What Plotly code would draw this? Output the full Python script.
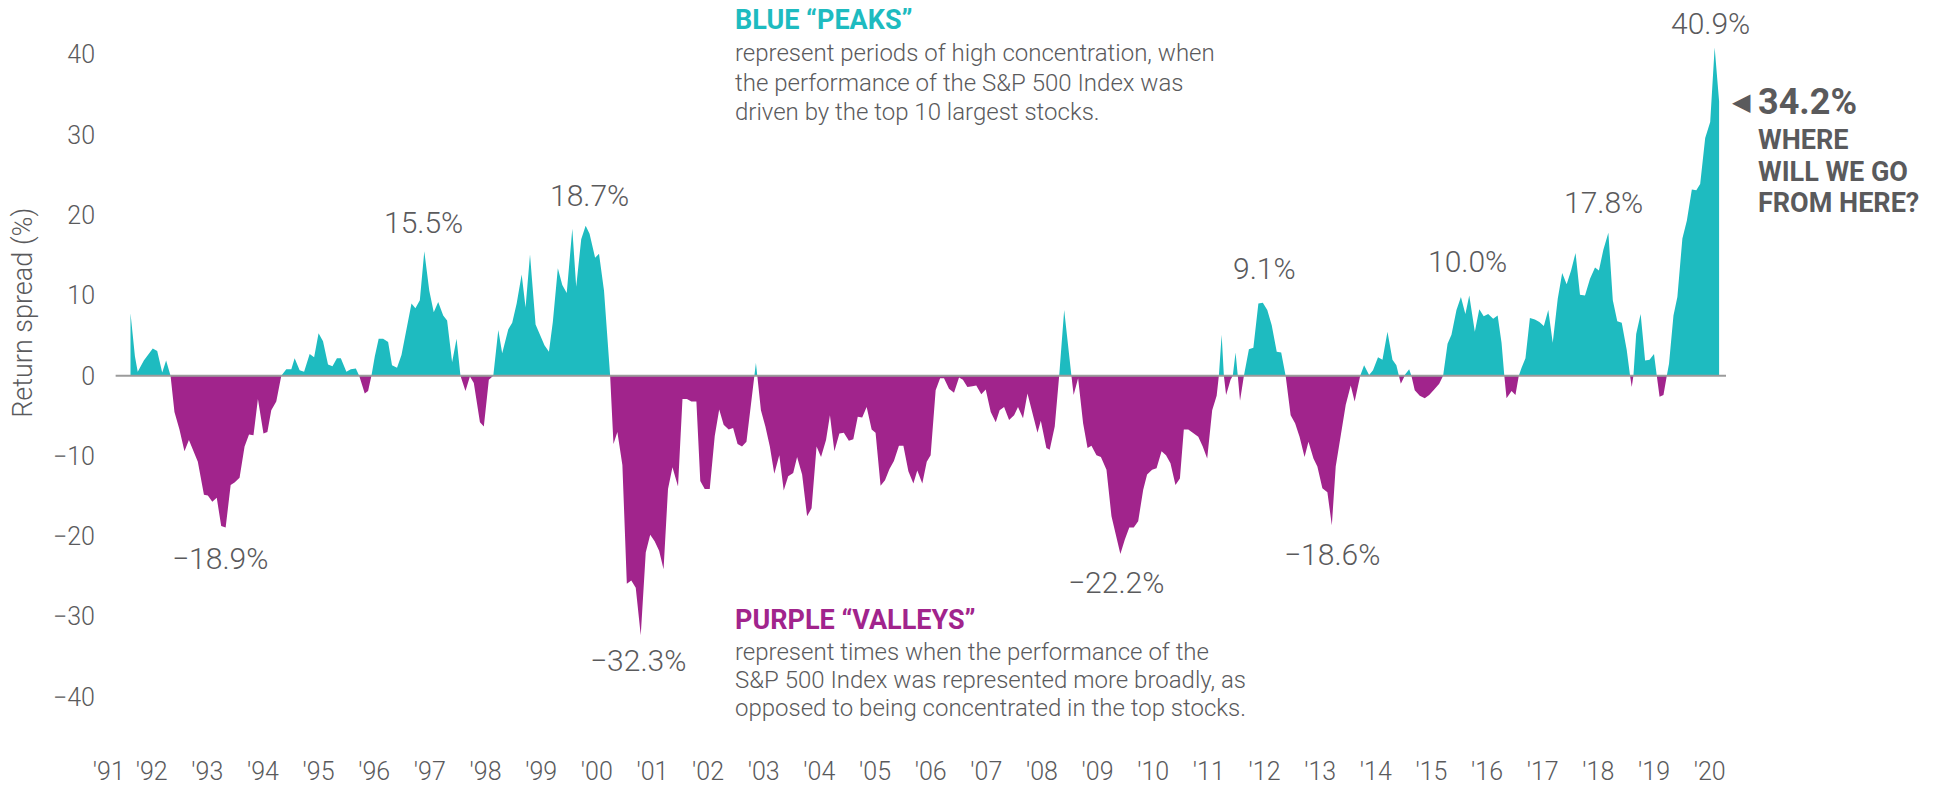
import plotly.graph_objects as go

# ---- data (decimal year, return spread %) ----
dates = [
    1991.62, 1991.70, 1991.75, 1991.86, 1992.02, 1992.10, 1992.19, 1992.26, 1992.34, 1992.41,
    1992.50, 1992.59, 1992.67, 1992.83, 1992.94, 1993.01, 1993.09, 1993.17, 1993.25, 1993.33,
    1993.42, 1993.49, 1993.58, 1993.67, 1993.75, 1993.83, 1993.91, 1994.01, 1994.08, 1994.15,
    1994.24, 1994.33, 1994.42, 1994.51, 1994.57, 1994.66, 1994.74, 1994.84, 1994.92, 1995.00,
    1995.08, 1995.17, 1995.25, 1995.33, 1995.40, 1995.50, 1995.58, 1995.67, 1995.73, 1995.83,
    1995.89, 1995.95, 1996.01, 1996.08, 1996.16, 1996.25,
    1996.32, 1996.41, 1996.49, 1996.58, 1996.67, 1996.74, 1996.82, 1996.90, 1996.99, 1997.07,
    1997.15, 1997.24, 1997.31, 1997.40, 1997.48, 1997.55, 1997.64, 1997.72, 1997.79, 1997.90,
    1997.97, 1998.06, 1998.14, 1998.23, 1998.30, 1998.41, 1998.48, 1998.56, 1998.65, 1998.72,
    1998.80, 1998.90, 1998.97, 1999.06, 1999.14, 1999.21, 1999.30, 1999.38, 1999.46, 1999.56,
    1999.63, 1999.72, 1999.80, 1999.87, 1999.97, 2000.04, 2000.13, 2000.20, 2000.24, 2000.30,
    2000.37, 2000.46, 2000.54, 2000.62, 2000.70, 2000.79, 2000.88, 2000.96, 2001.04, 2001.12,
    2001.20, 2001.28, 2001.36, 2001.46, 2001.54, 2001.62, 2001.70, 2001.79, 2001.86, 2001.94,
    2002.03, 2002.12, 2002.20, 2002.28, 2002.37, 2002.45, 2002.53, 2002.61, 2002.69, 2002.77,
    2002.86, 2002.95, 2003.03, 2003.11, 2003.19, 2003.28, 2003.36, 2003.44, 2003.53, 2003.60,
    2003.69, 2003.78, 2003.86, 2003.95, 2004.03, 2004.12, 2004.19, 2004.27, 2004.36, 2004.44,
    2004.53, 2004.61, 2004.69, 2004.77, 2004.85, 2004.94, 2005.01, 2005.10, 2005.18, 2005.26,
    2005.34, 2005.43, 2005.51, 2005.60, 2005.69, 2005.76, 2005.85, 2005.93, 2006.00, 2006.09,
    2006.17, 2006.24, 2006.33, 2006.42, 2006.51, 2006.58, 2006.66, 2006.75, 2006.82, 2006.91,
    2006.99, 2007.08, 2007.17, 2007.24, 2007.32, 2007.41, 2007.50, 2007.57, 2007.66, 2007.74,
    2007.83, 2007.92, 2007.98, 2008.08, 2008.14, 2008.23, 2008.31, 2008.40, 2008.53, 2008.57,
    2008.65, 2008.74, 2008.82, 2008.89, 2008.98, 2009.06, 2009.16, 2009.25, 2009.33, 2009.41,
    2009.49, 2009.57, 2009.65, 2009.73, 2009.82, 2009.89, 2009.98, 2010.06, 2010.15, 2010.23,
    2010.31, 2010.40, 2010.48,
    2010.55, 2010.63, 2010.72, 2010.81, 2010.89, 2010.97, 2011.06, 2011.14, 2011.18, 2011.23,
    2011.27, 2011.31, 2011.39, 2011.43, 2011.48, 2011.52, 2011.56, 2011.63, 2011.72, 2011.80,
    2011.89, 2011.97, 2012.05, 2012.13, 2012.22, 2012.30, 2012.38, 2012.47, 2012.55, 2012.63,
    2012.72, 2012.79, 2012.88, 2012.95, 2013.04, 2013.13, 2013.21, 2013.28, 2013.37, 2013.46,
    2013.55, 2013.62, 2013.72, 2013.79, 2013.88, 2013.95, 2014.04, 2014.12, 2014.21, 2014.30,
    2014.37, 2014.45, 2014.52, 2014.60, 2014.64, 2014.70, 2014.79, 2014.88, 2014.96, 2015.05,
    2015.14, 2015.21,
    2015.29, 2015.36, 2015.45, 2015.53, 2015.61, 2015.68, 2015.78, 2015.86, 2015.94, 2016.02,
    2016.11, 2016.19, 2016.26, 2016.31, 2016.35, 2016.44, 2016.51, 2016.57, 2016.62, 2016.69,
    2016.77, 2016.86, 2016.94, 2017.02, 2017.10, 2017.18, 2017.27, 2017.35, 2017.43, 2017.51,
    2017.59, 2017.67, 2017.76, 2017.85, 2017.94, 2018.01, 2018.09, 2018.18, 2018.26, 2018.34,
    2018.42, 2018.51, 2018.57, 2018.60, 2018.63, 2018.68, 2018.76, 2018.84, 2018.92, 2019.00,
    2019.05, 2019.10, 2019.17, 2019.23, 2019.27, 2019.35, 2019.42, 2019.51, 2019.59, 2019.68,
    2019.76, 2019.83, 2019.92, 2020.01, 2020.09, 2020.17,
]

spread = [
    7.8, 2.4, 0.5, 1.9, 3.4, 3.1, 0.4, 1.9, 0.0, -4.5,
    -6.7, -9.4, -8.0, -10.7, -14.8, -14.9, -15.7, -15.2, -18.7, -18.9,
    -13.6, -13.3, -12.7, -8.8, -7.3, -7.4, -2.9, -7.2, -7.0, -4.3,
    -3.2, 0.0, 0.8, 0.8, 2.2, 0.7, 0.5, 2.7, 2.3, 5.3,
    4.3, 1.4, 1.2, 2.2, 2.2, 0.5, 0.8, 0.9, 0.0, -2.2,
    -1.9, 0.0, 2.4, 4.6, 4.6, 4.2,
    1.3, 1.0, 2.6, 5.9, 9.0, 8.4, 9.4, 15.5, 10.6, 7.9,
    9.2, 7.5, 6.9, 1.7, 4.6, 0.0, -1.9, -0.1, -0.9, -5.8,
    -6.3, -0.5, 0.0, 5.7, 2.8, 5.8, 6.6, 9.0, 12.6, 8.5,
    15.1, 6.4, 5.3, 3.8, 3.0, 6.7, 13.4, 11.3, 10.3, 18.3,
    11.1, 17.0, 18.7, 17.7, 14.7, 15.2, 10.6, 4.4, 0.0, -8.5,
    -7.0, -11.1, -25.9, -25.5, -26.4, -32.3, -22.0, -19.8, -20.6, -21.8,
    -24.1, -14.1, -11.4, -13.8, -2.9, -2.9, -3.2, -3.2, -13.1, -14.1,
    -14.1, -7.5, -4.2, -6.1, -6.7, -6.5, -8.5, -8.8, -8.2, -3.6,
    1.6, -4.3, -6.3, -8.8, -12.2, -9.9, -14.3, -12.5, -12.1, -10.1,
    -12.3, -17.5, -16.5, -8.8, -10.1, -8.0, -4.9, -9.4, -7.2, -7.1,
    -8.1, -7.9, -5.1, -5.2, -3.9, -6.7, -7.1, -13.7, -13.0, -11.6,
    -10.6, -8.7, -8.7, -11.9, -13.4, -11.8, -13.4, -10.7, -9.9, -1.8,
    -0.3, -0.3, -1.6, -2.1, -0.2, -0.5, -1.4, -1.3, -1.2, -2.3,
    -1.7, -4.5, -5.8, -4.3, -3.9, -5.5, -4.9, -3.9, -5.3, -2.2,
    -4.7, -7.1, -5.6, -9.0, -9.2, -6.3, 0.0, 8.2, 0.0, -2.4,
    -0.3, -5.9, -9.0, -8.7, -9.9, -10.1, -11.7, -17.5, -19.8, -22.2,
    -20.4, -18.9, -18.9, -18.1, -14.2, -12.3, -11.7, -11.5, -9.4, -9.9,
    -10.9, -13.6, -12.8,
    -6.7, -6.7, -7.1, -7.6, -8.8, -10.3, -4.3, -2.5, 0.0, 5.1,
    0.0, -2.4, -0.5, 0.0, 2.9, 0.0, -3.1, 0.0, 3.3, 3.5,
    9.0, 9.1, 8.2, 6.3, 3.0, 2.9, 0.0, -4.9, -5.9, -7.6,
    -10.1, -8.2, -10.3, -11.3, -14.0, -14.5, -18.6, -11.3, -7.2, -3.6,
    -1.2, -3.2, 0.0, 1.3, 0.1, 0.7, 2.3, 2.0, 5.5, 2.0,
    1.3, -1.0, 0.1, 0.8, 0.0, -1.8, -2.5, -2.8, -2.4, -1.7,
    -1.0, 0.0,
    4.0, 5.1, 8.2, 9.8, 7.7, 10.0, 5.5, 8.3, 7.4, 7.7,
    7.1, 7.5, 4.1, 0.0, -2.8, -1.9, -2.4, 0.0, 1.0, 2.2,
    7.2, 7.0, 6.7, 6.2, 8.2, 4.1, 9.6, 12.8, 11.4, 13.1,
    15.3, 10.1, 10.0, 12.1, 13.5, 13.1, 15.7, 17.8, 9.4, 6.8,
    6.6, 3.2, 0.0, -1.4, 0.0, 5.2, 7.7, 1.9, 2.0, 2.7,
    0.0, -2.6, -2.4, 0.0, 1.5, 7.5, 9.8, 17.1, 19.3, 23.2,
    23.1, 23.9, 29.6, 31.6, 40.9, 34.2,
]

tick_years = [1991.23] + list(range(1992, 2021))
tick_labels = ["'91", "'92", "'93", "'94", "'95", "'96", "'97", "'98", "'99", "'00",
               "'01", "'02", "'03", "'04", "'05", "'06", "'07", "'08", "'09", "'10",
               "'11", "'12", "'13", "'14", "'15", "'16", "'17", "'18", "'19", "'20"]
y_ticks = [-40, -30, -20, -10, 0, 10, 20, 30, 40]

# peak / valley callouts: (label, date, value of label anchor)
callouts = [
    ("15.5%", 1996.89, 19.1), ("18.7%", 1999.86, 22.5), ("\u221218.9%", 1993.22, -22.7),
    ("\u221232.3%", 2000.74, -35.4), ("\u221222.2%", 2009.33, -25.7), ("\u221218.6%", 2013.21, -22.3),
    ("9.1%", 2012.00, 13.4), ("10.0%", 2015.64, 14.2), ("17.8%", 2018.10, 21.6),
    ("40.9%", 2020.01, 43.9),
]

peaks_lines = ["represent periods of high concentration, when",
               "the performance of the S&P 500 Index was",
               "driven by the top 10 largest stocks."]
valleys_lines = ["represent times when the performance of the",
                 "S&P 500 Index was represented more broadly, as",
                 "opposed to being concentrated in the top stocks."]
question_lines = ["WHERE", "WILL WE GO", "FROM HERE?"]
latest_label = "34.2%"

TEAL = "#1EBBC0"
PURPLE = "#A1248C"
GREY = "#5A5A5C"
FONT = "Roboto"

# split into positive / negative parts with zero crossings for clean fills
xs, ys = [], []
for i, (x, y) in enumerate(zip(dates, spread)):
    if i > 0:
        x0, y0 = dates[i - 1], spread[i - 1]
        if y0 * y < 0:
            xc = x0 + (x - x0) * (-y0) / (y - y0)
            xs.append(xc)
            ys.append(0.0)
    xs.append(x)
    ys.append(y)
pos = [max(v, 0.0) for v in ys]
neg = [min(v, 0.0) for v in ys]

fig = go.Figure()
fig.add_trace(go.Scatter(x=xs, y=pos, mode="lines", fill="tozeroy", fillcolor=TEAL,
                         line=dict(width=0, color=TEAL), hoverinfo="skip"))
fig.add_trace(go.Scatter(x=xs, y=neg, mode="lines", fill="tozeroy", fillcolor=PURPLE,
                         line=dict(width=0, color=PURPLE), hoverinfo="skip"))

fig.add_shape(type="line", xref="x", yref="y", x0=1991.353, x1=2020.294, y0=0, y1=0,
              line=dict(color="#9B9B9B", width=2))

light = dict(family=FONT, color=GREY, weight=300)
ann = []
for txt, x, y in callouts:
    ann.append(dict(text=txt, x=x, y=y, xref="x", yref="y", showarrow=False,
                    font=dict(light, size=30), xanchor="center", yanchor="middle"))

ann.append(dict(text="BLUE \u201cPEAKS\u201d", x=2002.44, y=44.3, xref="x", yref="y", showarrow=False,
                font=dict(family=FONT, size=27, color=TEAL, weight=700), xanchor="left", yanchor="middle"))
for line, yv in zip(peaks_lines, [40.19, 36.45, 32.84]):
    ann.append(dict(text=line, x=2002.44, y=yv, xref="x", yref="y", showarrow=False,
                    font=dict(light, size=24), xanchor="left", yanchor="middle"))
ann.append(dict(text="PURPLE \u201cVALLEYS\u201d", x=2002.44, y=-30.4, xref="x", yref="y", showarrow=False,
                font=dict(family=FONT, size=27, color=PURPLE, weight=700), xanchor="left", yanchor="middle"))
for line, yv in zip(valleys_lines, [-34.41, -37.90, -41.39]):
    ann.append(dict(text=line, x=2002.44, y=yv, xref="x", yref="y", showarrow=False,
                    font=dict(light, size=24), xanchor="left", yanchor="middle"))

ann.append(dict(text="\u25c0", x=1.0025, y=34.1, xref="paper", yref="y", showarrow=False,
                font=dict(family="DejaVu Sans", size=24, color=GREY), xanchor="left", yanchor="middle"))
ann.append(dict(text=latest_label, x=1.0185, y=34.1, xref="paper", yref="y", showarrow=False,
                font=dict(family=FONT, size=36, color=GREY, weight=700), xanchor="left", yanchor="middle"))
for line, yv in zip(question_lines, [29.35, 25.37, 21.51]):
    ann.append(dict(text=line, x=1.0185, y=yv, xref="paper", yref="y", showarrow=False,
                    font=dict(family=FONT, size=27, color=GREY, weight=700),
                    xanchor="left", yanchor="middle"))
ann.append(dict(text="Return spread (%)", x=-0.0444, y=7.8, xref="paper", yref="y", showarrow=False,
                textangle=-90, font=dict(light, size=27),
                xanchor="center", yanchor="middle"))

fig.update_layout(
    width=1944, height=786,
    margin=dict(l=96, r=218, t=0, b=32),
    plot_bgcolor="white", paper_bgcolor="white",
    showlegend=False,
    annotations=ann,
    xaxis=dict(range=[1991.0, 2020.294], tickmode="array", tickvals=tick_years, ticktext=tick_labels,
               showgrid=False, zeroline=False, showline=False, ticks="",
               tickfont=dict(light, size=25)),
    yaxis=dict(range=[-47.1, 46.8], tickmode="array", tickvals=y_ticks,
               ticktext=[("\u2212" + str(-v)) if v < 0 else str(v) for v in y_ticks],
               showgrid=False, zeroline=False, showline=False, ticks="",
               tickfont=dict(light, size=25)),
)

fig.write_html("out.html", config={"displayModeBar": False},
               post_script="document.body.style.margin='0';document.body.style.overflow='hidden';")
